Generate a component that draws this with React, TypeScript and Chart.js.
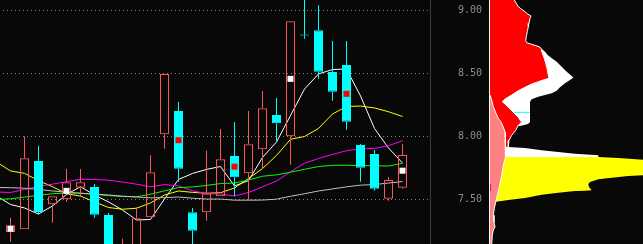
import React, { useEffect, useRef } from 'react';
import { Chart, registerables } from 'chart.js';

Chart.register(...registerables);

// ---------- price axis ----------
const PRICE_MIN = 7.1452;
const PRICE_MAX = 9.0817;
const PRICE_STEP = 0.5;

// ---------- candles (index 0..28) ----------
const opens = [7.238, 7.262, 7.804, 7.46, 7.5, 7.592, 7.598, 7.375, 7.0, 7.1, 7.357, 8.016, 8.201, 7.397, 7.397, 7.524, 7.844, 7.706, 7.897, 8.169, 8.0, 8.802, 8.841, 8.51, 8.566, 7.931, 7.86, 7.505, 7.592];
const highs = [7.354, 8.0, 7.925, 7.524, 7.74, 7.74, 7.621, 7.391, 7.187, 7.437, 7.849, 8.494, 8.272, 7.431, 7.885, 8.058, 8.113, 8.201, 8.36, 8.304, 8.913, 9.12, 9.04, 8.756, 8.756, 7.939, 7.891, 7.677, 7.939];
const lows = [7.163, 7.262, 7.383, 7.314, 7.481, 7.521, 7.354, 7.02, 6.95, 7.08, 7.357, 7.902, 7.64, 7.08, 7.33, 7.524, 7.526, 7.488, 7.746, 7.957, 7.775, 8.775, 8.457, 8.283, 8.052, 7.64, 7.568, 7.489, 7.584];
const closes = [7.294, 7.825, 7.399, 7.524, 7.635, 7.635, 7.378, 7.08, 7.12, 7.349, 7.714, 8.494, 7.743, 7.251, 7.546, 7.817, 7.675, 7.937, 8.222, 8.103, 8.913, 8.8, 8.513, 8.354, 8.116, 7.751, 7.584, 7.653, 7.852];

// ---------- moving averages (index -1..28) ----------
const maIndex = Array.from({ length: 30 }, (_, k) => k - 1);
const ma5 = [7.526, 7.459, 7.431, 7.383, 7.447, 7.538, 7.6, 7.534, 7.479, 7.415, 7.336, 7.34, 7.502, 7.657, 7.705, 7.737, 7.76, 7.606, 7.648, 7.832, 7.955, 8.165, 8.375, 8.495, 8.53, 8.534, 8.32, 8.062, 7.907, 7.788];
const ma10 = [7.796, 7.725, 7.706, 7.648, 7.6, 7.544, 7.526, 7.479, 7.435, 7.421, 7.429, 7.471, 7.534, 7.566, 7.555, 7.548, 7.552, 7.59, 7.665, 7.744, 7.848, 7.976, 7.998, 8.062, 8.177, 8.237, 8.24, 8.225, 8.195, 8.157];
const ma20 = [7.558, 7.554, 7.578, 7.602, 7.62, 7.64, 7.659, 7.657, 7.652, 7.637, 7.62, 7.599, 7.617, 7.606, 7.568, 7.544, 7.542, 7.526, 7.554, 7.6, 7.645, 7.719, 7.786, 7.824, 7.856, 7.886, 7.899, 7.904, 7.925, 7.965];
const ma30 = [7.498, 7.504, 7.517, 7.532, 7.544, 7.551, 7.548, 7.54, 7.53, 7.522, 7.52, 7.54, 7.567, 7.593, 7.598, 7.61, 7.625, 7.629, 7.653, 7.683, 7.694, 7.715, 7.738, 7.76, 7.77, 7.77, 7.768, 7.766, 7.764, 7.786];
const ma60 = [7.594, 7.592, 7.588, 7.578, 7.566, 7.556, 7.548, 7.54, 7.534, 7.525, 7.518, 7.512, 7.513, 7.518, 7.509, 7.502, 7.502, 7.493, 7.493, 7.494, 7.501, 7.524, 7.544, 7.566, 7.582, 7.599, 7.612, 7.617, 7.629, 7.641];

// ---------- small square markers ----------
const markerIdx = [0, 4, 12, 16, 20, 24, 28];
const markerPrice = [7.266, 7.567, 7.969, 7.759, 8.456, 8.337, 7.727];
const markerColor = ['#ffffff', '#ffffff', '#ff0000', '#ff0000', '#ffffff', '#ff0000', '#ffffff'];

// ---------- chip distribution profile (price, amount) ----------
const whitePrice = [8.7301, 8.7111, 8.6984, 8.6714, 8.6452, 8.619, 8.592, 8.5523, 8.5127, 8.4785, 8.465, 8.4468, 8.4206, 8.3888, 8.3619, 8.3412, 8.3277, 8.3142, 8.2936, 8.2746, 8.2087, 8.1134, 8.0976, 8.0817, 8.0738, 8.0658, 7.923, 7.915, 7.9071, 7.8888, 7.8754, 7.8619, 7.8492, 7.8357, 7.8277];
const whiteAmt = [42.7, 50.5, 52, 56, 58.7, 62.7, 67.7, 72.7, 77.7, 82.7, 84.3, 81, 76, 71, 67.7, 62.7, 56, 49.3, 42.7, 41, 41, 41, 39, 31, 20, 15, 15, 19.3, 36, 52.7, 69.3, 86, 109.3, 109.3, 100];
const redPrice = [9.1134, 9.0817, 9.05, 9.0285, 9.0079, 8.9888, 8.9706, 8.9547, 8.9365, 8.8968, 8.8698, 8.8301, 8.7904, 8.7587, 8.7428, 8.7301, 8.7111, 8.6984, 8.6587, 8.619, 8.5793, 8.5396, 8.4865, 8.4603, 8.4468, 8.4333, 8.415, 8.3888, 8.3619, 8.3277, 8.296, 8.2746, 8.2563, 8.2301, 8.2031, 8.1769, 8.1507, 8.1293, 8.1134, 8.0873, 8.0476, 8.0079, 7.9682, 7.9547, 7.915];
const redAmt = [23, 25.3, 27.7, 29.3, 32.7, 36, 38.7, 42, 41, 40, 39.3, 38.3, 37.3, 36.7, 37.7, 42.7, 50, 52, 53.3, 55.3, 56.7, 58, 59.3, 60, 54.3, 49.3, 42.7, 36, 29.3, 22.7, 16, 13.3, 16, 19.3, 22.7, 26, 29.3, 31, 32.7, 29.3, 26.7, 22.7, 20, 19.3, 19.3];
const yellowPrice = [7.8357, 7.8277, 7.8142, 7.8119, 7.6928, 7.6849, 7.6714, 7.6587, 7.6373, 7.6214, 7.5976, 7.5714, 7.5682, 7.5658, 7.5523, 7.5365, 7.5103, 7.4944, 7.4785, 7.4746];
const yellowAmt = [109.3, 129.3, 154, 160, 160, 139.3, 122.7, 109.3, 101, 99.3, 100, 102.7, 96, 86, 69.3, 52.7, 36, 19.3, 5.3, 0];
const pinkPrice = [8.3357, 8.3277, 8.288, 8.2349, 8.1825, 8.1428, 8.1134, 8.0738, 8.0341, 7.9944, 7.915, 7.8357, 7.7698, 7.6904, 7.6238, 7.5444, 7.4785, 7.4254, 7.373, 7.3198, 7.2801, 7.2563, 7.2142, 7.1452, 7.0976];
const pinkAmt = [0, 1, 2.7, 4.3, 7, 9.3, 12, 14.3, 16, 16.7, 16.7, 16, 14.3, 12.7, 11, 8.7, 6.7, 5.3, 4.3, 5, 6, 4.3, 3.3, 2.7, 2.5];
const costPrice = 8.1904;
const costAmt = [25, 41];
const nowPrice = [7.6214, 7.5658];
const PROFILE_MAX = 154;

const UP = '#ff5555';
const DOWN = '#00ffff';
const BG = '#080808';

export default function App() {
  const mainRef = useRef<HTMLCanvasElement>(null);
  const profRef = useRef<HTMLCanvasElement>(null);

  useEffect(() => {
    const idx = opens.map((_, i) => i);
    const isUp = (i: number) => closes[i] > opens[i];
    const col = (i: number) => (isUp(i) ? UP : DOWN);
    const maLine = (vals: number[], color: string) => ({
      type: 'line' as const,
      data: maIndex.map((x, k) => ({ x, y: vals[k] })),
      borderColor: color,
      borderWidth: 1,
      pointRadius: 0,
      tension: 0,
      order: 10,
    });

    const main = new Chart(mainRef.current!, {
      type: 'bar',
      data: {
        datasets: [
          maLine(ma60, '#c0c0c0'),
          maLine(ma30, '#00ff00'),
          maLine(ma20, '#ff00ff'),
          maLine(ma10, '#ffff00'),
          maLine(ma5, '#ffffff'),
          {
            type: 'bar',
            data: idx.map((i) => ({ x: i, y: [Math.max(opens[i], closes[i]), highs[i]] })),
            backgroundColor: idx.map(col),
            borderWidth: 0,
            barThickness: 1,
            grouped: false,
            inflateAmount: 0,
            order: 3,
          } as any,
          {
            type: 'bar',
            data: idx.map((i) => ({ x: i, y: [lows[i], Math.min(opens[i], closes[i])] })),
            backgroundColor: idx.map(col),
            borderWidth: 0,
            barThickness: 1,
            grouped: false,
            inflateAmount: 0,
            order: 3,
          } as any,
          {
            type: 'bar',
            data: idx.map((i) => ({ x: i, y: [opens[i], closes[i]] })),
            backgroundColor: idx.map((i) => (isUp(i) ? 'rgba(0,0,0,0)' : DOWN)),
            borderColor: idx.map(col),
            borderWidth: 1,
            borderSkipped: false,
            barThickness: 9,
            minBarLength: 1,
            grouped: false,
            inflateAmount: 0,
            order: 2,
          } as any,
          {
            type: 'scatter',
            data: markerIdx.map((x, k) => ({ x, y: markerPrice[k] })),
            pointStyle: 'rect',
            pointRadius: 4.25,
            backgroundColor: markerColor,
            borderWidth: 0,
            order: 1,
          } as any,
        ],
      },
      options: {
        responsive: false,
        animation: false,
        events: [],
        layout: { padding: 0, autoPadding: false },
        plugins: { legend: { display: false }, tooltip: { enabled: false } },
        scales: {
          x: { type: 'linear', min: -0.75, max: -0.75 + 430 / 14, display: false, offset: false },
          y: {
            type: 'linear',
            position: 'right',
            min: PRICE_MIN,
            max: PRICE_MAX,
            afterFit: (s: any) => {
              s.width = 59;
              s.paddingTop = 0;
              s.paddingBottom = 0;
            },
            grid: { color: '#7f7f7f', drawTicks: false, lineWidth: 1 },
            border: { display: true, color: '#3c3c3c', dash: [1, 3], dashOffset: 1 },
            ticks: {
              stepSize: PRICE_STEP,
              includeBounds: false,
              padding: 28,
              color: '#8c8c8c',
              font: { family: 'DejaVu Sans Mono', size: 10 },
              callback: (v: any) => Number(v).toFixed(2),
            },
          },
        },
      } as any,
    });

    const area = (price: number[], amt: number[], fillColor: string, order: number, border = 0) => ({
      data: price.map((p, k) => ({ x: amt[k], y: p })),
      backgroundColor: fillColor,
      borderColor: '#ffffff',
      borderWidth: border,
      fill: 'origin',
      pointRadius: 0,
      tension: 0,
      order,
    });

    const prof = new Chart(profRef.current!, {
      type: 'line',
      data: {
        datasets: [
          area(whitePrice, whiteAmt, '#ffffff', 5),
          area(redPrice, redAmt, '#ff0000', 4, 1),
          area(yellowPrice, yellowAmt, '#ffff00', 3),
          area(pinkPrice, pinkAmt, '#ff8080', 2, 1),
          {
            data: costAmt.map((a) => ({ x: a, y: costPrice })),
            borderColor: '#00ffff',
            borderWidth: 1,
            pointRadius: 0,
            fill: false,
            order: 1,
          },
          {
            data: nowPrice.map((p) => ({ x: 1.5, y: p })),
            borderColor: '#e0108a',
            borderWidth: 1,
            pointRadius: 0,
            fill: false,
            order: 0,
          },
        ],
      },
      options: {
        indexAxis: 'y',
        responsive: false,
        animation: false,
        events: [],
        layout: { padding: 0, autoPadding: false },
        plugins: { legend: { display: false }, tooltip: { enabled: false } },
        scales: {
          x: { type: 'linear', min: 0, max: PROFILE_MAX, display: false },
          y: {
            type: 'linear',
            position: 'left',
            min: PRICE_MIN,
            max: PRICE_MAX,
            afterFit: (s: any) => {
              s.width = 0;
              s.paddingTop = 0;
              s.paddingBottom = 0;
            },
            grid: { display: false, drawTicks: false },
            ticks: { display: false },
            border: { display: true, color: '#ffffff', width: 1, z: 1 },
          },
        },
      } as any,
    });

    return () => {
      main.destroy();
      prof.destroy();
    };
  }, []);

  return (
    <div
      style={{
        position: 'fixed',
        left: 0,
        top: 0,
        width: 643,
        height: 244,
        background: BG,
        overflow: 'hidden',
      }}
    >
      <canvas ref={mainRef} width={489} height={244} style={{ position: 'absolute', left: 0, top: 0 }} />
      <canvas ref={profRef} width={154} height={244} style={{ position: 'absolute', left: 489, top: 0 }} />
    </div>
  );
}
